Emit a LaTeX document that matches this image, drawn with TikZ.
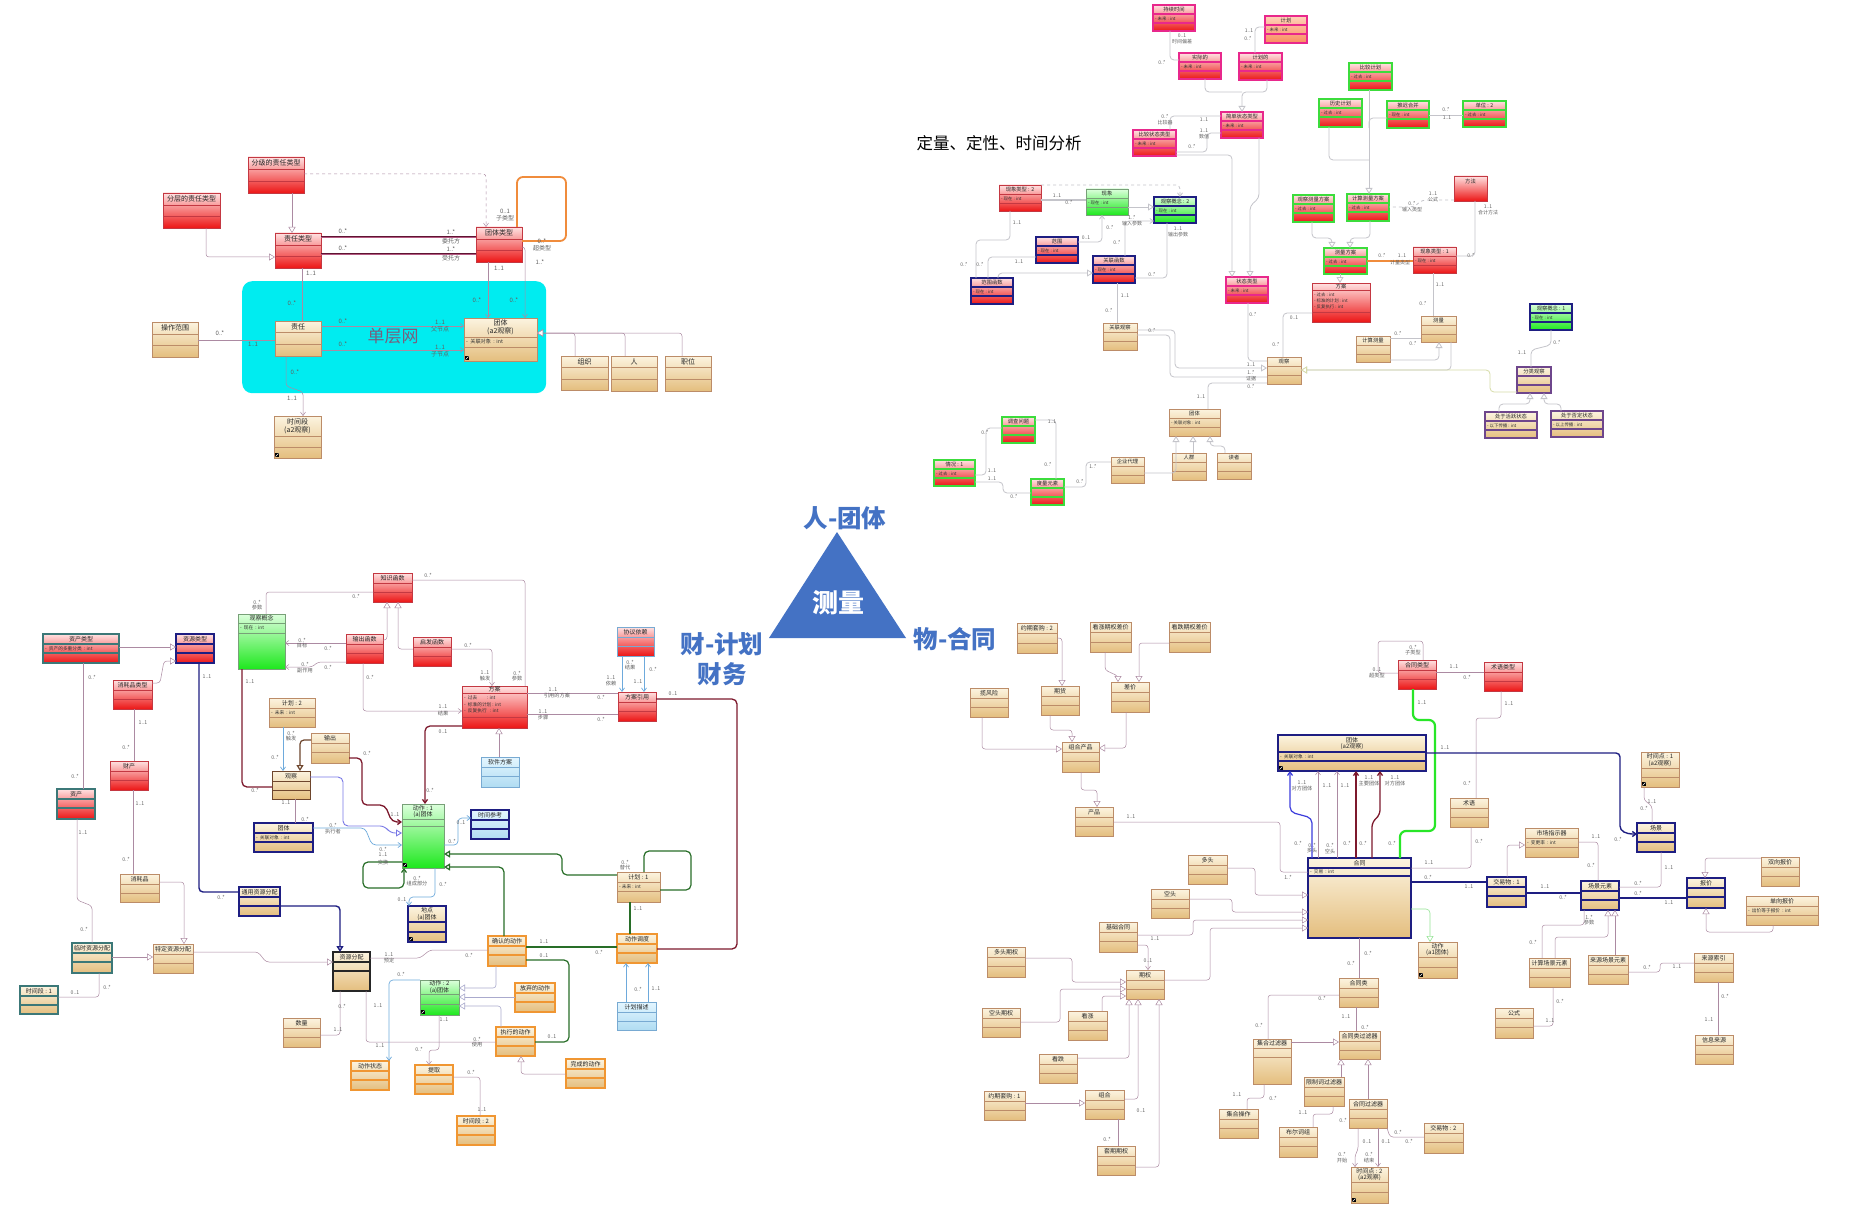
\documentclass[tikz,border=0pt]{standalone}
\usepackage{fontspec}
\setmainfont{Noto Sans CJK SC}
\usetikzlibrary{arrows.meta,calc}
\definecolor{tanA}{RGB}{252,244,224}
\definecolor{tanB}{RGB}{228,190,126}
\definecolor{tanE}{RGB}{188,140,104}
\definecolor{redA}{RGB}{255,226,226}
\definecolor{redB}{RGB}{236,22,22}
\definecolor{redE}{RGB}{196,56,66}
\definecolor{pinkE}{RGB}{232,40,140}
\definecolor{grnE}{RGB}{60,220,60}
\definecolor{navyE}{RGB}{30,30,130}
\definecolor{tealE}{RGB}{60,120,120}
\definecolor{purpE}{RGB}{110,70,140}
\definecolor{orgE}{RGB}{240,150,50}
\definecolor{grnA}{RGB}{220,255,220}
\definecolor{grnB}{RGB}{30,232,30}
\definecolor{grnbE}{RGB}{120,160,120}
\definecolor{lbA}{RGB}{228,246,255}
\definecolor{lbB}{RGB}{176,220,242}
\definecolor{lbE}{RGB}{120,170,210}
\definecolor{orA}{RGB}{255,210,185}
\definecolor{orB}{RGB}{250,140,95}
\definecolor{brownD}{RGB}{110,70,45}
\definecolor{lnA}{RGB}{172,138,162}
\definecolor{lnB}{RGB}{196,196,202}
\definecolor{cyanR}{RGB}{0,236,240}
\definecolor{triB}{RGB}{68,114,196}
\definecolor{marC}{RGB}{125,25,45}
\definecolor{dgC}{RGB}{40,110,40}
\definecolor{lbC}{RGB}{110,170,220}
\definecolor{lavC}{RGB}{120,120,230}
\definecolor{gnC}{RGB}{40,230,40}
\definecolor{orC}{RGB}{240,140,60}
\definecolor{olC}{RGB}{215,220,168}
\definecolor{dblE}{RGB}{95,20,50}
\definecolor{dblI}{RGB}{180,90,130}
\definecolor{bluC}{RGB}{60,60,220}
\definecolor{lgC}{RGB}{150,228,150}
\definecolor{lgenC}{RGB}{170,170,205}
\definecolor{dwC}{RGB}{120,95,125}
\newcommand\fsT{\fontsize{6}{6.8}\selectfont}
\newcommand\fsA{\fontsize{4.6}{5.2}\selectfont}
\newcommand\fsL{\fontsize{5.2}{5.8}\selectfont}
\newcommand\boxstyle[5]{\tikzset{#1/.style={anchor=north west, inner sep=0pt, outer sep=0pt, draw=#4, line width=#5, top color=#2, bottom color=#3}, #1d/.style={draw=#4, line width=#5}}}
\boxstyle{tanb}{tanA}{tanB}{tanE}{0.6pt}
\boxstyle{tann}{tanA}{tanB}{navyE}{1.3pt}
\boxstyle{tanp}{tanA}{tanB}{purpE}{1.1pt}
\boxstyle{tant}{tanA}{tanB}{tealE}{1.1pt}
\boxstyle{tank}{tanA}{tanB}{black!85}{1.1pt}
\boxstyle{tano}{tanA}{tanB}{orgE}{1.1pt}
\boxstyle{tand}{tanA}{tanB}{brownD}{1pt}
\boxstyle{redb}{redA}{redB}{redE}{0.6pt}
\boxstyle{redp}{redA}{redB}{pinkE}{1.1pt}
\boxstyle{redg}{redA}{redB}{grnE}{1.1pt}
\boxstyle{redn}{redA}{redB}{navyE}{1.3pt}
\boxstyle{redt}{redA}{redB}{tealE}{1.1pt}
\boxstyle{redl}{redA}{redB}{lbE}{0.8pt}
\boxstyle{redo}{orA}{orB}{pinkE}{1.1pt}
\boxstyle{grn}{grnA}{grnB}{grnbE}{0.6pt}
\boxstyle{grnn}{grnA}{grnB}{navyE}{1.3pt}
\boxstyle{blu}{lbA}{lbB}{lbE}{0.7pt}
\boxstyle{blun}{lbA}{lbB}{navyE}{1.3pt}
\newcounter{lc}
% \ub[style]{name}{x}{y}{w}{h}{title}{d1}{d2}
\newcommand\ub[9][tanb]{%
  \node[#1, minimum width=#5pt, minimum height=#6pt] (#2) at (#3,#4) {};
  \draw[#1d] ([yshift=-#8pt]#2.north west) -- ([yshift=-#8pt]#2.north east);
  \draw[#1d] ([yshift=-#9pt]#2.north west) -- ([yshift=-#9pt]#2.north east);
  \node[ttl] (#2-t) at ([yshift={-#8pt/2}]#2.north) {#7};}
\newcommand\ua[3]{\stepcounter{lc}\node[att] (a\thelc) at ([xshift=2pt,yshift=-#2pt]#1.north west) {#3};}
\newcommand\ml[3]{\stepcounter{lc}\node[mlt] (m\thelc) at (#1,#2) {#3};}
\newcommand\ico[1]{\node[icn] (#1-i) at ([xshift=3pt,yshift=3pt]#1.south west) {};
  \draw[white, line width=0.4pt] ([shift={(0.8pt,0.8pt)}]#1-i.south west) -- ([shift={(-0.8pt,-0.8pt)}]#1-i.north east);}
\tikzset{
 ttl/.style={font=\fsT, align=center, inner sep=0pt, text=black!85},
 att/.style={font=\fsA, anchor=west, inner sep=0pt, text=black!80},
 mlt/.style={font=\fsL, inner sep=0pt, text=black!62},
 icn/.style={fill=black, minimum size=4pt, inner sep=0pt},
 asc/.style={draw=lnA, line width=0.5pt, rounded corners=3pt},
 asc2/.style={draw=lnB, line width=0.8pt, rounded corners=4pt},
 navi/.style={-{Straight Barb[length=3.5pt,width=5pt]}},
 gent/.style={-{Triangle[length=6pt,width=7pt,fill=white]}},
 navyl/.style={draw=navyE, line width=1.4pt, rounded corners=4pt},
 marl/.style={draw=marC, line width=1.3pt, rounded corners=5pt},
 dgl/.style={draw=dgC, line width=1.2pt, rounded corners=5pt},
 lbl/.style={draw=lbC, line width=0.7pt, rounded corners=4pt},
 lavl/.style={draw=lavC, line width=0.9pt, rounded corners=5pt},
 grnl/.style={draw=gnC, line width=2.2pt, rounded corners=6pt},
 orgl/.style={draw=orC, line width=1.8pt, rounded corners=6pt},
 olv/.style={draw=olC, line width=0.8pt, rounded corners=4pt},
 brnl/.style={draw=brownD, line width=1.2pt, rounded corners=4pt},
 lgen/.style={draw=lgenC, line width=0.6pt, rounded corners=3pt, -{Triangle[length=6pt,width=7pt,fill=white]}},
 lgrn/.style={draw=lgC, line width=0.6pt, rounded corners=4pt},
 blul/.style={draw=bluC, line width=1.2pt, rounded corners=5pt},
 dbl/.style={draw=dblE, line width=0.9pt, double=dblI, double distance=0.9pt},
 bigl/.style={font=\fontsize{24.5}{30}\selectfont\bfseries, text=triB, align=center, inner sep=0pt},
}
\begin{document}
\begin{tikzpicture}[x=1pt,y=-1pt]
\useasboundingbox (0,0) rectangle (1853,1225);
\fill[white] (0,0) rectangle (1853,1225);

%================ TOP-LEFT =================
\renewcommand\fsT{\fontsize{7}{7.8}\selectfont}
\renewcommand\fsL{\fontsize{6}{6.6}\selectfont}
\renewcommand\fsA{\fontsize{5.2}{5.8}\selectfont}
\node[fill=cyanR, rounded corners=10pt, minimum width=304pt, minimum height=112pt, anchor=north west, inner sep=0pt] (cyanbg) at (242,281) {};
\node[font=\fontsize{17}{20}\selectfont, text=dwC] (dcw) at (393,336) {单层网};
\ub[redb]{fjzr}{248}{157}{56}{36}{分级的责任类型}{12}{24}
\ub[redb]{fczr}{163}{193}{57}{35}{分层的责任类型}{12}{23}
\ub[redb]{zrlx}{275}{233}{46}{35}{责任类型}{12}{23}
\ub[redb]{ttlx}{476}{227}{46}{35}{团体类型}{12}{23}
\ub[tanb]{zr}{275}{321}{46}{35}{责任}{11}{23}
\ub[tanb]{tta}{464}{318}{73}{43}{团体\\(a2观察)}{19}{29}\ua{tta}{24}{-\ \ 关联对象\ \ : int}\ico{tta}
\ub[tanb]{czfw}{152}{322}{46}{35}{操作范围}{12}{23}
\ub[tanb]{zz}{561}{356}{47}{34}{组织}{11}{23}
\ub[tanb]{ren}{611}{356}{46}{35}{人}{11}{23}
\ub[tanb]{zw}{665}{356}{46}{35}{职位}{11}{23}
\ub[tanb]{sjda}{274}{416}{47}{42}{时间段\\(a2观察)}{20}{31}\ico{sjda}

\draw[asc, dashed, navi] (fjzr.east |- 0,174) -| (ttlx.north -| 486,0);
\draw[asc, gent] (fjzr.south -| 292,0) -- (zrlx.north -| 292,0);
\draw[asc, gent] (fczr.south -| 206,0) |- (zrlx.west |- 0,257);
\draw[dbl] (zrlx.east |- 0,237) -- (ttlx.west |- 0,237);
\draw[dbl] (zrlx.east |- 0,254) -- (ttlx.west |- 0,254);
\draw[asc] (zrlx.south -| 302,0) -- (zr.north -| 302,0);
\draw[asc, navi] (ttlx.south -| 488,0) -- (tta.north -| 488,0);
\draw[asc, navi] (ttlx.east |- 0,247) -| (tta.north -| 525,0);
\draw[orgl] (ttlx.north -| 517,0) |- (566,177) |- (ttlx.east |- 0,241);
\draw[asc, navi] (zr.east |- 0,326) -- (tta.west |- 0,326);
\draw[asc, navi] (zr.east |- 0,350) -- (tta.west |- 0,350);
\draw[asc] (czfw.east |- 0,340) -- (zr.west |- 0,340);
\draw[asc, navi] (zr.south -| 286,0) -- (286,386) -- (303,392) -- (sjda.north -| 303,0);
\draw[asc, gent] (zz.north -| 575,0) |- (tta.east |- 0,333);
\draw[asc, gent] (ren.north -| 625,0) |- (tta.east |- 0,333);
\draw[asc, gent] (zw.north -| 682,0) |- (tta.east |- 0,333);

\ml{343}{231}{0..*}\ml{451}{232}{1..*}\ml{451}{241}{委托方}
\ml{343}{248}{0..*}\ml{451}{249}{1..*}\ml{451}{258}{受托方}
\ml{505}{211}{0..1}\ml{505}{218}{子类型}\ml{542}{241}{0..*}\ml{542}{248}{超类型}
\ml{311}{273}{1..1}\ml{292}{303}{0..*}
\ml{499}{268}{1..1}\ml{477}{300}{0..*}\ml{540}{262}{1..*}\ml{514}{300}{0..*}
\ml{343}{321}{0..*}\ml{440}{322}{1..1}\ml{440}{329}{父节点}
\ml{343}{344}{0..*}\ml{440}{347}{1..1}\ml{440}{354}{子节点}
\ml{220}{333}{0..*}\ml{253}{344}{1..1}
\ml{295}{372}{0..*}\ml{292}{398}{1..1}

%================ TOP-RIGHT =================
\renewcommand\fsT{\fontsize{5.3}{6}\selectfont}
\renewcommand\fsL{\fontsize{5}{5.6}\selectfont}
\renewcommand\fsA{\fontsize{4.4}{5}\selectfont}
\node[font=\fontsize{16.5}{18}\selectfont] (dltitle) at (999,143) {定量、定性、时间分析};
\ub[redp]{cxsj}{1153}{5}{42}{26}{持续时间}{9}{18}\ua{cxsj}{13.5}{- 未来 : int}
\ub[redo]{jhz}{1265}{16}{42}{27}{计划}{9}{18}\ua{jhz}{13.5}{- 未来 : int}
\ub[redp]{sjdd}{1179}{53}{42}{26}{实际的}{9}{18}\ua{sjdd}{13.5}{- 未来 : int}
\ub[redp]{jhdd}{1239}{53}{43}{27}{计划的}{9}{18}\ua{jhdd}{13.5}{- 未来 : int}
\ub[redp]{jdzt}{1221}{112}{42}{26}{简单状态类型}{9}{18}\ua{jdzt}{13.5}{- 未来 : int}
\ub[redp]{bjzt}{1133}{130}{43}{26}{比较状态类型}{9}{18}\ua{bjzt}{13.5}{- 未来 : int}
\ub[redp]{ztlx}{1226}{277}{42}{26}{状态类型}{9}{18}\ua{ztlx}{13.5}{- 未来 : int}
\ub[redb]{xxlxb}{999}{185}{42}{26}{现象类型 : 2}{9}{18}\ua{xxlxb}{13.5}{- 现在 : int}
\ub[grn]{xx}{1086}{189}{42}{26}{现象}{9}{18}\ua{xx}{13.5}{- 现在 : int}
\ub[grnn]{gcgnb}{1154}{197}{42}{26}{观察概念 : 2}{9}{18}\ua{gcgnb}{13.5}{- 现在 : int}
\ub[redn]{fw}{1036}{237}{42}{26}{范围}{9}{18}\ua{fw}{13.5}{- 现在 : int}
\ub[redn]{fwhs}{971}{278}{42}{26}{范围函数}{9}{18}\ua{fwhs}{13.5}{- 现在 : int}
\ub[redn]{glhs}{1093}{256}{42}{27}{关联函数}{9}{18}\ua{glhs}{13.5}{- 现在 : int}
\ub[tanb]{glgc}{1103}{323}{34}{27}{关联观察}{9}{18}
\ub[redg]{bjjh}{1349}{63}{43}{27}{比较计划}{9}{18}\ua{bjjh}{13.5}{- 过去 : int}
\ub[redg]{lsjh}{1319}{99}{43}{28}{历史计划}{9}{18}\ua{lsjh}{13.5}{- 过去 : int}
\ub[redg]{txhb}{1387}{101}{42}{27}{推迟合并}{9}{18}\ua{txhb}{13.5}{- 现在 : int}
\ub[redg]{dwb}{1463}{101}{43}{26}{单位 : 2}{9}{18}\ua{dwb}{13.5}{- 过去 : int}
\node[redb, minimum width=33pt, minimum height=25pt] (ff) at (1454,176) {};
\node[ttl] (ff-t) at ([yshift=-5pt]ff.north) {方法};
\ub[redg]{gcclfa}{1293}{195}{41}{27}{观察测量方案}{9}{18}\ua{gcclfa}{13.5}{- 过去 : int}
\ub[redg]{jsclfa}{1347}{194}{42}{27}{计算测量方案}{9}{18}\ua{jsclfa}{13.5}{- 过去 : int}
\ub[redg]{clfa}{1324}{248}{43}{26}{测量方案}{9}{18}\ua{clfa}{13.5}{- 过去 : int}
\ub[redb]{faa}{1312}{283}{58}{39}{方案}{7}{29}\ua{faa}{12}{- 过去 : int}\ua{faa}{18}{- 标准的计划 : int}\ua{faa}{24}{- 反复执行 : int}
\ub[redb]{xxlxa}{1413}{247}{43}{26}{现象类型 : 1}{9}{18}\ua{xxlxa}{13.5}{- 现在 : int}
\ub[tanb]{cl}{1421}{316}{35}{26}{测量}{9}{18}
\ub[tanb]{gc}{1267}{357}{34}{27}{观察}{9}{18}
\ub[tanb]{jscl}{1356}{336}{34}{26}{计算测量}{9}{18}
\ub[grnn]{gcgna}{1530}{304}{42}{26}{观察概念 : 1}{9}{18}\ua{gcgna}{13.5}{- 现在 : int}
\ub[tanp]{flgc}{1517}{367}{34}{26}{分类观察}{9}{18}
\ub[tanp]{cyhy}{1485}{412}{52}{26}{处于活跃状态}{9}{18}\ua{cyhy}{13.5}{- 以下传播 : int}
\ub[tanp]{cyfd}{1551}{411}{52}{26}{处于否定状态}{9}{18}\ua{cyfd}{13.5}{- 以上传播 : int}
\ub[tanb]{ttb}{1169}{409}{51}{27}{团体}{9}{18}\ua{ttb}{13.5}{- 关联对象 : int}
\ub[tanb]{qydl}{1111}{457}{33}{26}{企业代理}{9}{18}
\ub[tanb]{rq}{1172}{453}{34}{27}{人群}{9}{18}
\ub[tanb]{dzr}{1217}{453}{34}{26}{读者}{9}{18}
\ub[redg]{dcwt}{1002}{417}{33}{26}{调查问题}{9}{18}
\ub[redg]{qka}{934}{460}{41}{26}{情况 : 1}{9}{18}\ua{qka}{13.5}{- 过去 : int}
\ub[redg]{dlys}{1031}{479}{33}{26}{度量元素}{9}{18}

\draw[asc2] (cxsj.south -| 1170,0) |- (sjdd.west |- 0,60);
\draw[asc2] (jhz.west |- 0,27) -| (jhdd.north -| 1255,0);
\draw[asc2] (sjdd.south -| 1205,0) |- (1242,92);
\draw[asc2, gent] (jhdd.south -| 1267,0) |- (1242,92) -- (jdzt.north -| 1242,0);
\draw[asc2] (jdzt.west |- 0,116) -| (bjzt.north -| 1170,0);
\draw[asc2] (jdzt.west |- 0,133) -| (1207,152) -- (bjzt.east |- 0,152);
\draw[asc2, gent] (bjzt.east |- 0,155) -| (ztlx.north -| 1232,0);
\draw[asc2, gent] (jdzt.south -| 1259,0) -- (1259,198) -- (1250,206) -- (ztlx.north -| 1250,0);
\draw[asc2] (ztlx.south -| 1248,0) |- (gc.west |- 0,361);
\draw[asc2, line width=1.4pt] (xxlxb.east |- 0,200) -- (xx.west |- 0,200);
\draw[asc2, dashed, navi] (xxlxb.north east) -| (gcgnb.north -| 1180,0);
\draw[asc2, gent] (xx.east |- 0,207) -- (gcgnb.west |- 0,207);
\draw[asc2, navi] (glhs.north -| 1125,0) |- (gcgnb.west |- 0,221);
\draw[asc2] (gcgnb.south -| 1167,0) |- (glhs.east |- 0,278);
\draw[asc2, navi] (fw.east |- 0,242) -| (xx.south -| 1102,0);
\draw[asc2] (xxlxb.south -| 1010,0) |- (976,240) -- (fwhs.north -| 976,0);
\draw[asc2] (fw.west |- 0,257) -| (fwhs.north -| 988,0);
\draw[asc2, gent] (fwhs.north -| 998,0) |- (glhs.west |- 0,273);
\draw[asc2] (glhs.south -| 1117,0) -- (glgc.north -| 1117,0);
\draw[asc2, gent] (glgc.east |- 0,330) -| (1175,368) -- (gc.west |- 0,368);
\draw[asc2] (glgc.east |- 0,335) -| (1170,377) -- (gc.west |- 0,377);
\draw[asc2] (faa.west |- 0,313) -| (gc.north -| 1283,0);
\draw[asc2] (gc.west |- 0,383) -| (ttb.north -| 1208,0);
\draw[asc2, gent] (cl.south -| 1451,0) |- (gc.east |- 0,370);
\draw[olv, gent] (flgc.west |- 0,392) -| (1490,370) -- (gc.east |- 0,370);
\draw[asc2] (jscl.east |- 0,338) -- (cl.west |- 0,338);
\draw[asc2, gent] (jscl.east |- 0,360) -| (cl.south -| 1439,0);
\draw[asc2] (cl.north -| 1433,0) -- (xxlxa.south -| 1433,0);
\draw[asc2] (gcgna.south -| 1551,0) -- (1551,345) -- (1531,350) -- (flgc.north -| 1531,0);
\draw[asc2, gent] (cyhy.north -| 1499,0) |- (1530,404) -- (flgc.south -| 1530,0);
\draw[asc2, gent] (cyfd.north -| 1561,0) |- (1544,404) -- (flgc.south -| 1544,0);
\draw[asc2, gent] (qydl.east |- 0,473) -| (ttb.south -| 1176,0);
\draw[asc2, gent] (rq.north -| 1193,0) -- (ttb.south -| 1193,0);
\draw[asc2, gent] (dzr.north -| 1225,0) |- (1210,446) -- (ttb.south -| 1210,0);
\draw[asc2] (dcwt.east |- 0,420) -| (dlys.north -| 1056,0);
\draw[asc2] (qka.east |- 0,475) -| (986,428) -- (dcwt.west |- 0,428);
\draw[asc2] (qka.east |- 0,482) -| (1003,493) -- (dlys.west |- 0,493);
\draw[asc2] (dlys.east |- 0,487) -| (1086,462) -- (qydl.west |- 0,462);
\draw[asc2, gent] (bjjh.south -| 1369,0) -- (jsclfa.north -| 1369,0);
\draw[asc2] (txhb.west |- 0,118) -| (1369,128);
\draw[asc2] (lsjh.south -| 1329,0) |- (1369,160);
\draw[asc2] (txhb.east |- 0,115) -- (dwb.west |- 0,115);
\draw[asc2, dashed] (ff.west |- 0,200) -- (1422,200) -- (1414,207) -- (jsclfa.east |- 0,207);
\draw[asc2] (ff.south -| 1475,0) |- (xxlxa.east |- 0,256);
\draw[asc2, gent] (gcclfa.south -| 1312,0) |- (1332,238) -- (clfa.north -| 1332,0);
\draw[asc2, gent] (jsclfa.south -| 1370,0) |- (1350,238) -- (clfa.north -| 1350,0);
\draw[asc2, gent] (clfa.south -| 1340,0) -- (faa.north -| 1340,0);
\draw[orgl] (clfa.east |- 0,261) -- (xxlxa.west |- 0,261);

\ml{1182}{36}{0..1}\ml{1182}{42}{时间偏差}\ml{1162}{63}{0..*}
\ml{1249}{31}{1..1}\ml{1248}{39}{0..*}
\ml{1204}{120}{1..1}\ml{1165}{117}{0..*}\ml{1165}{123}{比较器}
\ml{1204}{131}{1..1}\ml{1204}{137}{数值}\ml{1192}{147}{0..*}
\ml{1057}{196}{1..1}\ml{1069}{203}{0..*}
\ml{1132}{218}{1..*}\ml{1132}{224}{输入参数}
\ml{1178}{229}{1..1}\ml{1178}{235}{输出参数}\ml{1152}{275}{0..*}
\ml{1086}{238}{0..1}\ml{1110}{228}{0..*}
\ml{1017}{223}{1..1}\ml{964}{265}{0..*}
\ml{1019}{262}{1..1}\ml{980}{265}{0..*}\ml{1117}{243}{0..*}
\ml{1125}{296}{1..1}\ml{1109}{311}{0..*}
\ml{1152}{331}{0..*}\ml{1251}{373}{1..*}\ml{1251}{379}{证据}
\ml{1253}{315}{0..*}\ml{1251}{365}{1..1}
\ml{1294}{318}{0..1}\ml{1276}{345}{0..*}
\ml{1201}{397}{1..1}\ml{1251}{387}{0..*}
\ml{1398}{334}{0..*}\ml{1413}{344}{0..*}
\ml{1440}{285}{1..1}\ml{1423}{304}{0..*}
\ml{1557}{343}{0..*}\ml{1522}{353}{1..1}
\ml{1052}{422}{1..1}\ml{1048}{465}{0..*}
\ml{985}{433}{0..*}\ml{992}{471}{1..1}
\ml{992}{479}{1..1}\ml{1014}{497}{0..*}
\ml{1080}{482}{0..*}\ml{1093}{467}{1..*}
\ml{1446}{110}{0..*}\ml{1447}{118}{1..1}
\ml{1433}{194}{1..1}\ml{1433}{200}{公式}\ml{1412}{204}{0..*}\ml{1412}{210}{输入类型}
\ml{1488}{207}{1..1}\ml{1488}{213}{合计方法}\ml{1471}{256}{0..*}
\ml{1382}{256}{0..*}\ml{1402}{256}{1..1}\ml{1400}{263}{计量类型}

%================ CENTER =================
\fill[triB] (837,532) -- (769,638) -- (906,638) -- cycle;
\node[bigl] (tA) at (845,518) {人-团体};
\node[bigl, text=white, font=\fontsize{26}{30}\selectfont\bfseries] (tB) at (838,603) {测量};
\node[bigl] (tC) at (722,659) {财-计划\\财务};
\node[bigl] (tD) at (955,639) {物-合同};

%================ BOTTOM-LEFT =================
\renewcommand\fsT{\fontsize{6}{6.8}\selectfont}
\renewcommand\fsL{\fontsize{5.2}{5.8}\selectfont}
\renewcommand\fsA{\fontsize{4.7}{5.3}\selectfont}
\ub[redt]{zclx}{43}{634}{76}{29}{资产类型}{10}{19}\ua{zclx}{14.5}{-\ \ 资产的多重分类\ \ : int}
\ub[redn]{zylx}{176}{634}{38}{29}{资源类型}{10}{19}
\ub[redb]{xhplx}{113}{680}{39}{29}{消耗品类型}{10}{19}
\ub[redb]{cc}{110}{761}{38}{29}{财产}{10}{19}
\ub[redt]{zc}{57}{789}{38}{30}{资产}{10}{19}
\ub[tanb]{xhp}{120}{874}{39}{28}{消耗品}{10}{19}
\ub[tant]{lszy}{72}{943}{40}{30}{临时资源分配}{10}{19}
\ub[tanb]{tdzy}{153}{944}{40}{29}{特定资源分配}{10}{19}
\ub[tant]{sjdb}{20}{986}{38}{28}{时间段 : 1}{10}{19}
\ub[tann]{tyzy}{239}{887}{41}{29}{通用资源分配}{10}{19}
\ub[tank]{zyfp}{333}{952}{37}{39}{资源分配}{10}{19}
\ub[tanb]{sl}{283}{1018}{37}{29}{数量}{10}{19}
\ub[grn]{gcgn}{238}{614}{47}{55}{观察概念}{9}{19}\ua{gcgn}{14}{-\ \ 现在\ \ : int}
\ub[redb]{zshs}{373}{573}{39}{29}{知识函数}{10}{19}
\ub[redb]{schs}{346}{634}{37}{29}{输出函数}{10}{19}
\ub[redb]{qfhs}{413}{637}{38}{29}{启发函数}{10}{19}
\ub[tanb]{jhb}{269}{698}{46}{29}{计划 : 2}{10}{19}\ua{jhb}{14.5}{-\ \ 未来\ \ : int}
\ub[tanb]{sc}{311}{733}{38}{30}{输出}{10}{19}
\ub[tand]{gcb}{272}{771}{38}{28}{观察}{10}{19}
\ub[tann]{ttc}{254}{823}{59}{29}{团体}{10}{19}\ua{ttc}{14.5}{-\ \ 关联对象\ \ : int}
\ub[redb]{fab}{462}{686}{65}{42}{方案}{7}{31}\ua{fab}{12}{-\ \ 过去\ \ \ \ \ \ \ \ \ : int}\ua{fab}{18.5}{-\ \ 标准的计划\ : int}\ua{fab}{25}{-\ \ 反复执行\ \ \ : int}
\ub[blu]{rjfa}{481}{757}{38}{30}{软件方案}{10}{19}
\ub[redl]{xyyl}{617}{627}{37}{29}{协议依赖}{10}{19}
\ub[redb]{faqy}{618}{692}{38}{29}{方案引用}{10}{19}
\ub[grn]{dza}{402}{804}{42}{64}{动作 : 1\\(a)团体}{15}{22}\ico{dza}
\ub[blun]{sjck}{471}{810}{38}{29}{时间参考}{10}{19}
\ub[tanb]{jha}{617}{872}{43}{30}{计划 : 1}{10}{19}\ua{jha}{14.5}{- 未来 : int}
\ub[tann]{dd}{408}{906}{38}{36}{地点\\(a)团体}{16}{26}\ico{dd}
\ub[tano]{qrdz}{488}{936}{38}{30}{确认的动作}{10}{19}
\ub[grn]{dzb}{420}{980}{39}{35}{动作 : 2\\(a)团体}{14}{24}\ico{dzb}
\ub[tano]{fqdz}{515}{983}{40}{29}{放弃的动作}{10}{19}
\ub[tano]{zxdz}{496}{1027}{39}{29}{执行的动作}{10}{19}
\ub[tano]{wcdz}{566}{1059}{39}{29}{完成的动作}{10}{19}
\ub[tano]{dzzt}{351}{1061}{38}{29}{动作状态}{10}{19}
\ub[tano]{tq}{415}{1065}{38}{29}{提取}{10}{19}
\ub[tano]{sjdc}{457}{1116}{38}{29}{时间段 : 2}{10}{19}
\ub[tano]{dzdd}{617}{934}{40}{29}{动作调度}{10}{19}
\ub[blu]{jhms}{617}{1002}{39}{28}{计划描述}{10}{19}

\draw[asc, gent] (zclx.east |- 0,647) -- (zylx.west |- 0,647);
\draw[asc, gent] (xhplx.east |- 0,683) -- (160,683) -- (164,661) -- (zylx.west |- 0,661);
\draw[asc] (zclx.south -| 83,0) -- (zc.north -| 83,0);
\draw[asc] (xhplx.south -| 134,0) -- (cc.north -| 134,0);
\draw[asc] (cc.south -| 133,0) -- (xhp.north -| 133,0);
\draw[asc] (zc.south -| 77,0) -- (77,900) -- (92,906) -- (lszy.north -| 92,0);
\draw[asc, gent] (xhp.east |- 0,882) -| (tdzy.north -| 184,0);
\draw[asc, gent] (lszy.east |- 0,957) -- (tdzy.west |- 0,957);
\draw[asc] (lszy.south -| 99,0) |- (sjdb.east |- 0,997);
\draw[asc, gent] (tdzy.east |- 0,952) -- (258,952) -- (266,962) -- (zyfp.west |- 0,962);
\draw[navyl] (zylx.south -| 199,0) |- (tyzy.west |- 0,892);
\draw[navyl, gent] (tyzy.east |- 0,906) -| (zyfp.north -| 340,0);
\draw[asc] (zyfp.east |- 0,958) -- (420,958) -- (430,950) -- (qrdz.west |- 0,950);
\draw[asc] (zyfp.south -| 340,0) |- (sl.east |- 0,1035);
\draw[asc] (zyfp.south -| 366,0) |- (zxdz.west |- 0,1042);
\draw[marl] (gcgn.south -| 242,0) |- (gcb.west |- 0,787);
\draw[asc] (zshs.west |- 0,592) -| (gcgn.north -| 266,0);
\draw[asc, navi] (schs.west |- 0,643) -- (gcgn.east |- 0,643);
\draw[asc, navi] (schs.west |- 0,662) -- (318,662) -- (312,667) -- (gcgn.east |- 0,667);
\draw[asc, gent] (schs.east |- 0,640) -| (zshs.south -| 387,0);
\draw[asc, gent] (qfhs.west |- 0,649) -| (zshs.south -| 398,0);
\draw[asc, navi] (schs.south -| 363,0) |- (fab.west |- 0,711);
\draw[lbl, navi] (jhb.south -| 283,0) -- (gcb.north -| 283,0);
\draw[brnl, gent] (sc.west |- 0,740) -| (gcb.north -| 300,0);
\draw[marl, navi] (sc.east |- 0,758) -| (362,805) -- (385,805) -- (392,822) -- (dza.west |- 0,822);
\draw[lavl, gent] (gcb.east |- 0,777) -| (343,826) -- (385,826) -- (390,833) -- (dza.west |- 0,833);
\draw[asc] (gcb.south -| 295,0) -- (ttc.north -| 295,0);
\draw[lbl, navi] (ttc.east |- 0,828) -- (365,828) -- (372,845) -- (dza.west |- 0,845);
\draw[asc] (zshs.east |- 0,580) -| (fab.north -| 525,0);
\draw[asc, navi] (qfhs.east |- 0,649) -| (fab.north -| 492,0);
\draw[asc] (fab.east |- 0,693) -- (faqy.west |- 0,693);
\draw[asc] (fab.east |- 0,714) -- (faqy.west |- 0,714);
\draw[lbl, navi] (xyyl.south -| 622,0) -- (faqy.north -| 622,0);
\draw[lbl, navi] (xyyl.south -| 644,0) -- (faqy.north -| 644,0);
\draw[marl] (faqy.east |- 0,699) -| (737,949) -- (dzdd.east |- 0,949);
\draw[marl, navi] (fab.west |- 0,726) -| (dza.north -| 425,0);
\draw[asc, gent] (rjfa.north -| 499,0) -- (fab.south -| 499,0);
\draw[lbl, navi] (dza.east |- 0,845) -| (458,818) -- (sjck.west |- 0,818);
\draw[dgl, gent] (jha.west |- 0,875) -| (562,854) -- (dza.east |- 0,854);
\draw[dgl, gent] (qrdz.north -| 504,0) |- (dza.east |- 0,867);
\draw[dgl] (jha.north -| 644,0) |- (691,851) |- (jha.east |- 0,890);
\draw[dgl, navi] (dza.west |- 0,862) -| (363,888) -| (dza.south -| 404,0);
\draw[lbl, navi] (dza.south -| 435,0) |- (409,897) -- (dd.north -| 409,0);
\draw[dgl] (qrdz.east |- 0,947) -- (dzdd.west |- 0,947);
\draw[dgl] (qrdz.east |- 0,960) -| (569,1042) -- (zxdz.east |- 0,1042);
\draw[lgen] (qrdz.south -| 496,0) |- (dzb.east |- 0,988);
\draw[lgen] (fqdz.west |- 0,997) -- (dzb.east |- 0,997);
\draw[lgen] (zxdz.north -| 501,0) |- (dzb.east |- 0,1006);
\draw[lbl, navi] (dzb.north west) -| (dzzt.north -| 389,0);
\draw[asc, navi] (dzb.south -| 439,0) |- (429,1050) -- (tq.north -| 429,0);
\draw[asc] (tq.east |- 0,1077) -| (sjdc.north -| 480,0);
\draw[asc, gent] (wcdz.west |- 0,1074) -| (zxdz.south -| 521,0);
\draw[dgl] (jha.south -| 630,0) -- (dzdd.north -| 630,0);
\draw[lbl, navi] (jhms.north -| 626,0) -- (dzdd.south -| 626,0);
\draw[lbl, navi] (jhms.north -| 648,0) -- (dzdd.south -| 648,0);

\ml{207}{677}{1..1}\ml{92}{677}{0..*}\ml{75}{776}{0..*}
\ml{143}{723}{1..1}\ml{126}{747}{0..*}\ml{140}{804}{1..1}\ml{126}{859}{0..*}
\ml{83}{833}{1..1}\ml{84}{929}{0..*}\ml{107}{987}{0..*}\ml{75}{993}{0..1}
\ml{221}{897}{0..*}
\ml{389}{955}{1..1}\ml{389}{961}{预定}\ml{469}{955}{0..*}
\ml{342}{1006}{0..*}\ml{338}{1030}{1..1}
\ml{378}{1006}{1..1}\ml{380}{1046}{1..1}\ml{477}{1039}{0..*}\ml{477}{1045}{使用}
\ml{257}{602}{0..*}\ml{257}{608}{参数}\ml{356}{596}{0..*}
\ml{302}{640}{0..*}\ml{302}{646}{目标}\ml{328}{648}{0..*}
\ml{305}{664}{0..*}\ml{305}{671}{副作用}\ml{328}{667}{0..*}
\ml{370}{677}{0..*}\ml{250}{682}{1..1}\ml{255}{790}{0..*}
\ml{291}{733}{0..*}\ml{291}{739}{触发}\ml{275}{757}{0..*}
\ml{367}{753}{0..*}\ml{395}{815}{1..1}
\ml{286}{803}{1..1}\ml{305}{819}{0..*}
\ml{333}{825}{0..*}\ml{333}{832}{执行者}
\ml{383}{849}{0..*}\ml{383}{855}{1..1}\ml{383}{862}{交换}
\ml{428}{575}{0..*}\ml{517}{673}{0..*}\ml{517}{679}{参数}
\ml{468}{645}{0..*}\ml{485}{673}{1..1}\ml{485}{679}{触发}
\ml{443}{707}{1..1}\ml{443}{714}{结果}
\ml{553}{690}{1..1}\ml{557}{696}{引用的方案}\ml{601}{697}{0..*}
\ml{543}{712}{1..1}\ml{543}{718}{步骤}\ml{601}{719}{0..*}
\ml{630}{662}{0..*}\ml{630}{668}{结果}\ml{611}{678}{1..1}\ml{611}{684}{依赖}\ml{653}{669}{0..*}\ml{638}{682}{1..1}
\ml{673}{694}{0..1}
\ml{443}{732}{0..1}\ml{430}{790}{0..*}
\ml{461}{823}{0..1}\ml{452}{841}{0..*}
\ml{625}{862}{0..*}\ml{625}{868}{替代}
\ml{417}{878}{0..*}\ml{417}{884}{组成部分}
\ml{443}{884}{0..*}\ml{402}{900}{0..1}
\ml{544}{942}{1..1}\ml{599}{952}{0..*}
\ml{544}{956}{0..1}\ml{552}{1037}{0..1}
\ml{401}{974}{0..*}\ml{444}{1020}{1..1}\ml{419}{1049}{0..*}
\ml{471}{1072}{0..*}\ml{482}{1110}{1..1}
\ml{638}{909}{1..1}\ml{638}{989}{0..*}\ml{656}{989}{1..1}

%================ BOTTOM-RIGHT =================
\ub{yqtgb}{1017}{623}{40}{30}{约期套购 : 2}{10}{20}
\ub{kzqc}{1090}{622}{41}{30}{看涨期权差价}{10}{20}
\ub{kdqc}{1169}{622}{41}{30}{看跌期权差价}{10}{20}
\ub{lfx}{970}{688}{38}{29}{揽风险}{10}{19}
\ub{qh}{1041}{686}{38}{29}{期货}{10}{19}
\ub{cj}{1111}{682}{38}{30}{差价}{10}{19}
\ub{zhcp}{1062}{742}{37}{30}{组合产品}{10}{19}
\ub{cp}{1075}{807}{38}{29}{产品}{10}{19}
\ub[tann]{ttd}{1278}{735}{148}{36}{团体\\(a2观察)}{17}{26}\ua{ttd}{21.5}{-\ \ 关联对象\ \ : int}\ico{ttd}
\ub[redb]{htlx}{1398}{660}{38}{29}{合同类型}{10}{19}
\ub[tann]{ht}{1308}{858}{103}{80}{合同}{10}{18}\ua{ht}{14}{-\ \ 交易\ \ : int}
\ub{dt}{1188}{855}{39}{29}{多头}{10}{19}
\ub{kt}{1151}{889}{38}{29}{空头}{10}{19}
\ub{jcht}{1099}{922}{38}{30}{基础合同}{10}{19}
\ub{dtqq}{987}{947}{38}{30}{多头期权}{10}{19}
\ub{qq}{1126}{970}{38}{29}{期权}{10}{19}
\ub{ktqq}{982}{1008}{38}{29}{空头期权}{10}{19}
\ub{kz}{1068}{1011}{39}{29}{看涨}{10}{19}
\ub{kd}{1039}{1054}{38}{29}{看跌}{10}{19}
\ub{yqtga}{984}{1091}{41}{29}{约期套购 : 1}{10}{19}
\ub{zh}{1085}{1090}{39}{29}{组合}{10}{19}
\ub{tqqq}{1097}{1146}{38}{29}{套期期权}{10}{19}
\ub{htl}{1339}{978}{39}{29}{合同类}{10}{19}
\ub{jhglq}{1253}{1039}{38}{45}{集合过滤器}{9}{18}
\ub{htlglq}{1339}{1031}{41}{28}{合同类过滤器}{10}{19}
\ub{xzcglq}{1304}{1077}{40}{29}{限制词过滤器}{10}{19}
\ub{htglq}{1349}{1099}{38}{29}{合同过滤器}{10}{19}
\ub{jhcz}{1219}{1109}{39}{29}{集合操作}{10}{19}
\ub{berc}{1279}{1127}{38}{30}{布尔词组}{10}{19}
\ub{sjdd2}{1351}{1167}{37}{36}{时间点 : 2\\(a2观察)}{15}{25}\ico{sjdd2}
\ub{jywb}{1424}{1123}{39}{30}{交易物 : 2}{10}{19}
\ub{dzc}{1418}{942}{39}{36}{动作\\(a1团体)}{15}{25}\ico{dzc}
\ub[redb]{shlx}{1484}{662}{38}{29}{术语类型}{10}{19}
\ub{sy}{1450}{798}{38}{29}{术语}{10}{19}
\ub{sjdd1}{1641}{752}{38}{35}{时间点 : 1\\(a2观察)}{16}{25}\ico{sjdd1}
\ub[tann]{cjing}{1637}{823}{38}{29}{场景}{10}{19}
\ub{sczsq}{1525}{828}{53}{29}{市场指示器}{10}{19}\ua{sczsq}{14.5}{-\ \ 变更率\ \ : int}
\ub[tann]{jywa}{1487}{877}{39}{30}{交易物 : 1}{10}{19}
\ub[tann]{cjys}{1581}{881}{38}{29}{场景元素}{10}{19}
\ub[tann]{bj}{1687}{878}{38}{30}{报价}{10}{19}
\ub{sxbj}{1761}{857}{38}{29}{双向报价}{10}{19}
\ub{dxbj}{1746}{896}{72}{29}{单向报价}{10}{19}\ua{dxbj}{14.5}{-\ \ 出价等于报价\ \ : int}
\ub{jscjys}{1529}{958}{41}{29}{计算场景元素}{10}{19}
\ub{lycjys}{1588}{955}{40}{29}{来源场景元素}{10}{19}
\ub{lysy}{1694}{953}{39}{29}{来源索引}{10}{19}
\ub{gs}{1495}{1008}{38}{30}{公式}{10}{19}
\ub{xxly}{1695}{1035}{38}{29}{信息来源}{10}{19}

\draw[asc, gent] (yqtgb.east |- 0,638) -| (qh.north -| 1062,0);
\draw[asc, gent] (kzqc.south -| 1105,0) -- (1105,670) -- (1118,676) -- (cj.north -| 1118,0);
\draw[asc, gent] (kdqc.west |- 0,643) -| (cj.north -| 1139,0);
\draw[asc, gent] (lfx.south -| 982,0) |- (zhcp.west |- 0,749);
\draw[asc, gent] (qh.south -| 1050,0) |- (1072,730) -- (zhcp.north -| 1072,0);
\draw[asc, gent] (cj.south -| 1126,0) |- (zhcp.east |- 0,748);
\draw[asc, gent] (zhcp.south -| 1081,0) |- (1097,790) -- (cp.north -| 1097,0);
\draw[asc] (cp.east |- 0,822) -| (1280,872) -- (ht.west |- 0,872);
\draw[blul, navi] (ht.north -| 1312,0) -- (1312,818) -- (1290,812) -- (ttd.south -| 1290,0);
\draw[asc, navi] (ht.north -| 1318,0) -- (ttd.south -| 1318,0);
\draw[asc, navi] (ht.north -| 1337,0) -- (ttd.south -| 1337,0);
\draw[marl, navi] (ht.north -| 1356,0) -- (ttd.south -| 1356,0);
\draw[marl, navi] (ht.north -| 1372,0) -- (1372,822) -- (1380,815) -- (ttd.south -| 1380,0);
\draw[grnl] (htlx.south -| 1413,0) -- (1413,720) -- (1435,720) -- (1435,831) -- (1400,831) -- (ht.north -| 1400,0);
\draw[asc] (htlx.west |- 0,673) -- (1378,673) -- (1378,641) -- (1423,641) -- (htlx.north -| 1423,0);
\draw[asc] (htlx.east |- 0,672) -- (shlx.west |- 0,672);
\draw[asc] (shlx.south -| 1501,0) |- (1476,718) -- (sy.north -| 1476,0);
\draw[asc] (sy.south -| 1471,0) |- (ht.east |- 0,868);
\draw[navyl, navi] (ttd.east |- 0,753) -| (1620,830) -- (1628,834) -- (cjing.west |- 0,834);
\draw[asc] (sjdd1.south -| 1644,0) -- (1644,800) -- (1652,806) -- (cjing.north -| 1652,0);
\draw[navyl] (ht.east |- 0,882) -- (jywa.west |- 0,882);
\draw[navyl] (jywa.east |- 0,893) -- (cjys.west |- 0,893);
\draw[asc, gent] (jywa.north -| 1507,0) |- (sczsq.west |- 0,845);
\draw[asc] (sczsq.east |- 0,842) -| (cjys.north -| 1598,0);
\draw[asc] (cjing.south -| 1661,0) |- (cjys.east |- 0,887);
\draw[navyl] (cjys.east |- 0,898) -- (bj.west |- 0,898);
\draw[asc, gent] (sxbj.west |- 0,858) -| (bj.north -| 1705,0);
\draw[asc, gent] (dxbj.south -| 1773,0) -- (1773,932) -- (1706,932) -- (bj.south -| 1706,0);
\draw[lgrn, gent] (ht.east |- 0,909) -| (dzc.north -| 1430,0);
\draw[asc] (cjys.south -| 1584,0) -- (1584,925) -- (1542,925) -- (jscjys.north -| 1542,0);
\draw[asc, gent] (jscjys.north -| 1555,0) -- (1555,937) -- (1608,937) -- (cjys.south -| 1608,0);
\draw[asc, gent] (lycjys.north -| 1615,0) -- (cjys.south -| 1615,0);
\draw[asc] (lycjys.east |- 0,972) -| (1660,963) -- (lysy.west |- 0,963);
\draw[asc] (lysy.south -| 1718,0) -- (xxly.north -| 1718,0);
\draw[asc] (jscjys.south -| 1553,0) |- (gs.east |- 0,1026);
\draw[asc, gent] (dt.east |- 0,868) -| (1255,895) -- (ht.west |- 0,895);
\draw[asc, gent] (kt.east |- 0,899) -| (1232,912) -- (ht.west |- 0,912);
\draw[asc, gent] (jcht.east |- 0,935) -| (1193,920) -- (ht.west |- 0,920);
\draw[asc, gent] (qq.east |- 0,980) -| (1210,928) -- (ht.west |- 0,928);
\draw[asc, navi] (jcht.east |- 0,945) -| (qq.north -| 1148,0);
\draw[asc, gent] (dtqq.east |- 0,958) -| (1072,982) -- (qq.west |- 0,982);
\draw[asc, gent] (ktqq.east |- 0,1022) -| (1060,989) -- (qq.west |- 0,989);
\draw[asc, gent] (kz.north -| 1102,0) |- (qq.west |- 0,996);
\draw[asc, gent] (kd.east |- 0,1058) -| (qq.south -| 1129,0);
\draw[asc, gent] (zh.east |- 0,1099) -| (qq.south -| 1138,0);
\draw[asc, gent] (tqqq.east |- 0,1167) -| (qq.south -| 1159,0);
\draw[asc, gent] (yqtga.east |- 0,1103) -- (zh.west |- 0,1103);
\draw[asc] (zh.south -| 1118,0) -- (tqqq.north -| 1118,0);
\draw[asc] (ht.south -| 1359,0) -- (htl.north -| 1359,0);
\draw[asc] (htl.west |- 0,995) -| (jhglq.north -| 1268,0);
\draw[asc] (htl.south -| 1356,0) -- (htlglq.north -| 1356,0);
\draw[asc, gent] (jhglq.east |- 0,1042) -- (htlglq.west |- 0,1042);
\draw[asc, gent] (xzcglq.north -| 1341,0) -- (htlglq.south -| 1341,0);
\draw[asc, gent] (htglq.north -| 1368,0) -- (htlglq.south -| 1368,0);
\draw[asc] (jhglq.south -| 1264,0) |- (1247,1098) -- (jhcz.north -| 1247,0);
\draw[asc] (xzcglq.south -| 1333,0) |- (1313,1114) -- (berc.north -| 1313,0);
\draw[asc, navi] (htglq.south -| 1358,0) -- (1358,1150) -- (1355,1155) -- (sjdd2.north -| 1355,0);
\draw[asc, navi] (htglq.south -| 1378,0) -- (sjdd2.north -| 1378,0);
\draw[asc] (htglq.south east) -- (1390,1137) -- (jywb.west |- 0,1137);

\ml{1131}{817}{1..1}\ml{1288}{877}{1..*}
\ml{1302}{783}{1..1}\ml{1302}{789}{对方团体}\ml{1298}{843}{0..*}
\ml{1327}{786}{1..1}\ml{1312}{845}{0..*}\ml{1312}{851}{多头}
\ml{1345}{786}{1..1}\ml{1330}{845}{0..*}\ml{1330}{851}{空头}
\ml{1369}{778}{1..1}\ml{1369}{784}{主要团体}\ml{1347}{843}{0..*}
\ml{1395}{778}{1..1}\ml{1395}{784}{对方团体}\ml{1363}{843}{0..*}
\ml{1422}{703}{1..1}\ml{1392}{843}{0..*}
\ml{1413}{647}{0..*}\ml{1413}{653}{子类型}\ml{1377}{670}{0..1}\ml{1377}{676}{超类型}
\ml{1454}{667}{1..1}\ml{1467}{677}{0..*}
\ml{1509}{704}{1..1}\ml{1467}{783}{0..*}
\ml{1479}{841}{0..*}\ml{1429}{863}{1..1}
\ml{1445}{748}{1..1}\ml{1618}{839}{0..*}
\ml{1652}{802}{1..1}\ml{1644}{808}{0..*}
\ml{1428}{877}{0..*}\ml{1469}{887}{1..1}
\ml{1545}{887}{1..1}\ml{1563}{897}{0..*}
\ml{1596}{837}{1..1}\ml{1591}{865}{0..*}
\ml{1669}{868}{1..1}\ml{1638}{883}{0..*}
\ml{1638}{893}{0..*}\ml{1669}{903}{1..1}
\ml{1589}{917}{1..*}\ml{1589}{923}{参数}\ml{1533}{942}{0..*}
\ml{1647}{967}{0..*}\ml{1677}{967}{1..1}
\ml{1725}{996}{0..*}\ml{1709}{1020}{1..1}
\ml{1560}{1001}{0..*}\ml{1550}{1021}{1..1}
\ml{1155}{939}{1..1}\ml{1148}{961}{0..1}
\ml{1141}{1111}{0..1}\ml{1107}{1139}{0..*}
\ml{1368}{953}{0..*}\ml{1351}{963}{0..*}
\ml{1322}{998}{0..*}\ml{1259}{1025}{0..*}
\ml{1346}{1017}{1..1}\ml{1365}{1027}{0..*}
\ml{1237}{1095}{1..1}\ml{1273}{1098}{0..*}
\ml{1303}{1113}{1..1}\ml{1343}{1120}{0..*}
\ml{1367}{1142}{0..1}\ml{1342}{1154}{0..*}\ml{1342}{1161}{开始}
\ml{1386}{1142}{0..1}\ml{1369}{1154}{0..*}\ml{1369}{1161}{结束}
\ml{1398}{1132}{0..*}\ml{1409}{1141}{0..*}
\end{tikzpicture}
\end{document}
